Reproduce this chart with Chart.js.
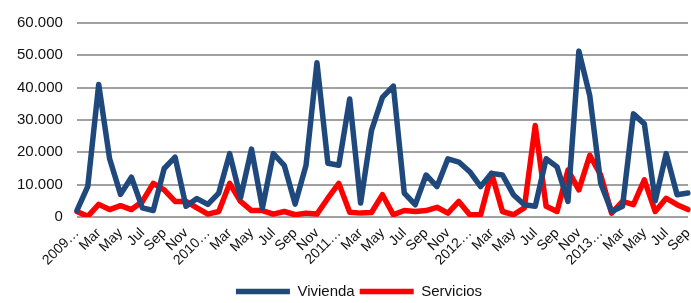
<!DOCTYPE html>
<html>
<head>
<meta charset="utf-8">
<script src="https://cdn.jsdelivr.net/npm/chart.js@4"></script>
<style>
  html, body { margin: 0; padding: 0; background: #fff; }
  #wrap { width: 691px; height: 303px; }
</style>
</head>
<body>
<div id="wrap"><canvas id="lineChart" width="691" height="303"></canvas></div>
<script>
// Months Jan 2009 - Sep 2013
const years = ['2009', '2010', '2011', '2012', '2013'];
const monthNames = ['Feb', 'Mar', 'Apr', 'May', 'Jun', 'Jul', 'Aug', 'Sep', 'Oct', 'Nov', 'Dec'];
const categories = [];
years.forEach(function(y, i) {
  categories.push(y + '…');
  const last = i === years.length - 1 ? 8 : 11;
  for (let m = 0; m < last; m++) categories.push(monthNames[m]);
});

const vivienda = [
  2000, 9500, 41000, 18000, 7000, 12300, 2800, 2000, 15000, 18500, 3300, 5700,
  3900, 7400, 19600, 6000, 21000, 2800, 19600, 16000, 4000, 16000, 47700, 16600,
  16000, 36500, 4300, 26800, 37000, 40500, 7400, 3800, 13000, 9400, 18000, 17000,
  14000, 9400, 13500, 13000, 6900, 3800, 3300, 18000, 15500, 4800, 51300, 37500,
  10400, 1700, 3300, 31900, 28800, 5000, 19600, 6900, 7400
];
const servicios = [
  1700, 200, 3900, 2300, 3500, 2300, 4800, 10400, 8400, 4800, 4800, 2800,
  900, 1700, 10400, 4800, 2000, 2000, 900, 1700, 700, 1200, 900, 5800,
  10400, 1500, 1200, 1400, 6900, 700, 2000, 1700, 2000, 3000, 1200, 4800,
  700, 700, 13500, 1700, 700, 2800, 28300, 3300, 1700, 14500, 8400, 19100,
  13000, 1200, 4800, 3800, 11500, 1700, 5800, 3800, 2300
];
const yTicks = [0, 10000, 20000, 30000, 40000, 50000, 60000];

const fontFamily = '"Liberation Sans", Arial, sans-serif';

// nudge the legend right and down, like the original
const legendShift = {
  id: 'legendShift',
  afterLayout: function(chart) {
    if (chart.legend) {
      chart.legend.left += 12;
      chart.legend.right += 12;
      chart.legend.top += 6;
      chart.legend.bottom += 6;
    }
  }
};

const lineChart = new Chart(document.getElementById('lineChart'), {
  type: 'line',
  data: {
    labels: categories,
    datasets: [
      {
        label: 'Vivienda',
        data: vivienda,
        borderColor: '#1F497D',
        backgroundColor: '#1F497D',
        borderWidth: 5.5,
        pointRadius: 0,
        tension: 0,
        borderJoinStyle: 'round',
        borderCapStyle: 'round',
        fill: false
      },
      {
        label: 'Servicios',
        data: servicios,
        borderColor: '#FF0000',
        backgroundColor: '#FF0000',
        borderWidth: 5.5,
        pointRadius: 0,
        tension: 0,
        borderJoinStyle: 'round',
        borderCapStyle: 'round',
        fill: false
      }
    ]
  },
  plugins: [legendShift],
  options: {
    responsive: false,
    animation: false,
    layout: { padding: { left: 3, right: 0, top: 9, bottom: 0 } },
    plugins: {
      tooltip: { enabled: false },
      legend: {
        position: 'bottom',
        labels: {
          usePointStyle: true,
          pointStyle: 'line',
          pointStyleWidth: 54,
          color: '#111',
          font: { family: fontFamily, size: 15 },
          padding: 5
        }
      }
    },
    scales: {
      x: {
        offset: false,
        grid: { display: false },
        border: { display: false },
        afterFit: function(axis) {
          axis.height = 56;
          axis.paddingRight = 3;
        },
        ticks: {
          autoSkip: false,
          maxRotation: 45,
          minRotation: 45,
          color: '#111',
          font: { family: fontFamily, size: 14 },
          padding: 0,
          callback: function(value, index) {
            return index % 2 === 0 ? categories[index] : '';
          }
        }
      },
      y: {
        min: 0,
        max: 60000,
        afterBuildTicks: function(axis) {
          axis.ticks = yTicks.map(function(v) { return { value: v }; });
        },
        border: { display: false },
        grid: { color: '#A0A0A0', lineWidth: 2, drawTicks: false },
        ticks: {
          color: '#111',
          font: { family: fontFamily, size: 15 },
          padding: 14,
          callback: function(value) {
            return value.toLocaleString('de-DE');
          }
        }
      }
    }
  }
});
</script>
</body>
</html>
